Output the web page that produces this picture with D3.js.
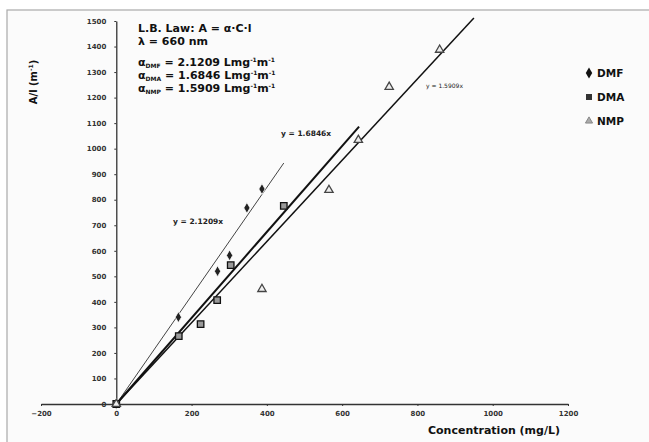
<!DOCTYPE html>
<html><head><meta charset="utf-8">
<script src="https://cdnjs.cloudflare.com/ajax/libs/d3/7.8.5/d3.min.js"></script>
<style>
body{margin:0;background:#fff;}
svg text{font-family:"DejaVu Sans",sans-serif;}
</style></head>
<body><svg id="c" width="649" height="442"></svg>
<script>
const xTicks = [-200,0,200,400,600,800,1000,1200];
const yTicks = [0,100,200,300,400,500,600,700,800,900,1000,1100,1200,1300,1400,1500];
const seriesNames = ["DMF","DMA","NMP"];
const slopes = [2.1209, 1.6846, 1.5909];
const fitEnd = [445, 645, 950];
const dmfX = [0,165,269,301,347,387];
const dmfY = [0,340,520,582,768,842];
const dmaX = [0,166,224,268,304,445];
const dmaY = [0,266,313,407,544,776];
const nmpX = [0,387,565,643,725,859];
const nmpY = [0,450,838,1034,1242,1387];
const eqLabels = ["y = 2.1209x","y = 1.6846x","y = 1.5909x"];

const svg = d3.select("#c");
// frame
svg.append("rect").attr("x",7).attr("y",10).attr("width",660).attr("height",450)
  .attr("fill","#fbfbfb").attr("stroke","#aaa").attr("stroke-width",1.2);

const x = d3.scaleLinear().domain([-200,1200]).range([41,568]);
const y = d3.scaleLinear().domain([0,1500]).range([404,21]);
const fmt = d3.format("d");

// x axis
const gx = svg.append("g").attr("transform",`translate(0,${y(0)})`)
  .call(d3.axisBottom(x).tickValues(xTicks).tickFormat(fmt).tickSize(2).tickSizeOuter(0).tickPadding(5));
gx.select(".domain").attr("stroke","#333").attr("stroke-width",1.3);
gx.selectAll(".tick line").attr("stroke","#333");
gx.selectAll("text").attr("font-size",7).attr("font-weight","bold").attr("fill","#333");

// y axis
const gy = svg.append("g").attr("transform",`translate(${x(0)},0)`)
  .call(d3.axisLeft(y).tickValues(yTicks).tickFormat(fmt).tickSize(2).tickSizeOuter(0).tickPadding(8));
gy.select(".domain").attr("stroke","#333").attr("stroke-width",1.3);
gy.selectAll(".tick line").attr("stroke","#333");
gy.selectAll("text").attr("font-size",7).attr("font-weight","bold").attr("fill","#333");

// axis titles
svg.append("text").attr("x",494).attr("y",434).attr("text-anchor","middle")
  .attr("font-size",11).attr("font-weight","bold").attr("fill","#111").text("Concentration (mg/L)");
svg.append("text").attr("transform","translate(37,82) rotate(-90)").attr("text-anchor","middle")
  .attr("font-size",10).attr("font-weight","bold").attr("fill","#111")
  .html('A/l (m<tspan dy="-4" font-size="6">-1</tspan><tspan dy="4">)</tspan>');

// fit lines
const lineStyles = [{w:1,c:"#444"},{w:2,c:"#111"},{w:1.5,c:"#111"}];
slopes.forEach((s,i)=>{
  svg.append("line").attr("x1",x(0)).attr("y1",y(0)).attr("x2",x(fitEnd[i])).attr("y2",y(s*fitEnd[i]))
    .attr("stroke",lineStyles[i].c).attr("stroke-width",lineStyles[i].w);
});

// markers
const sym = [d3.symbolDiamond, d3.symbolSquare, d3.symbolTriangle];
const symSize = [34, 42, 30];
const fills = ["#222","#999","#eee"];
const strokes = ["#fff","#111","#444"];
const data = [[dmfX,dmfY],[dmaX,dmaY],[nmpX,nmpY]];
data.forEach(([xs,ys],i)=>{
  svg.append("g").selectAll("path").data(xs.map((v,k)=>[v,ys[k]])).join("path")
    .attr("transform",d=>`translate(${x(d[0])},${y(d[1])})`)
    .attr("d",d3.symbol().type(sym[i]).size(symSize[i]))
    .attr("fill",fills[i]).attr("stroke",strokes[i]).attr("stroke-width",i===0?0.8:1.3);
});

// equation labels
svg.append("text").attr("x",173).attr("y",224).attr("font-size",7.5).attr("font-weight","bold").attr("fill","#222").text(eqLabels[0]);
svg.append("text").attr("x",281).attr("y",136).attr("font-size",7.5).attr("font-weight","bold").attr("fill","#222").text(eqLabels[1]);
svg.append("text").attr("x",426).attr("y",88).attr("font-size",6).attr("fill","#222").text(eqLabels[2]);

// annotation
const ann = svg.append("g").attr("font-size",11).attr("font-weight","bold").attr("fill","#111");
ann.append("text").attr("x",138).attr("y",32).text("L.B. Law: A = α·C·l");
ann.append("text").attr("x",138).attr("y",45).text("λ = 660 nm");
const alphaY = [66,79,92];
seriesNames.forEach((n,i)=>{
  ann.append("text").attr("x",138).attr("y",alphaY[i])
    .html(`α<tspan dy="2" font-size="6">${n}</tspan><tspan dy="-2"> = ${slopes[i].toFixed(4)} Lmg</tspan><tspan dy="-4" font-size="6">-1</tspan><tspan dy="4">m</tspan><tspan dy="-4" font-size="6">-1</tspan>`);
});

// legend
const legY = [73,97,121];
seriesNames.forEach((n,i)=>{
  svg.append("path").attr("transform",`translate(589,${legY[i]})`)
    .attr("d",d3.symbol().type(sym[i]).size(i===2?22:36))
    .attr("fill",i===0?"#111":(i===1?"#333":"#aaa")).attr("stroke",i===2?"#888":"none");
  svg.append("text").attr("x",597).attr("y",legY[i]+4).attr("font-size",10.5).attr("font-weight","bold").attr("fill","#111").text(n);
});
</script></body></html>
